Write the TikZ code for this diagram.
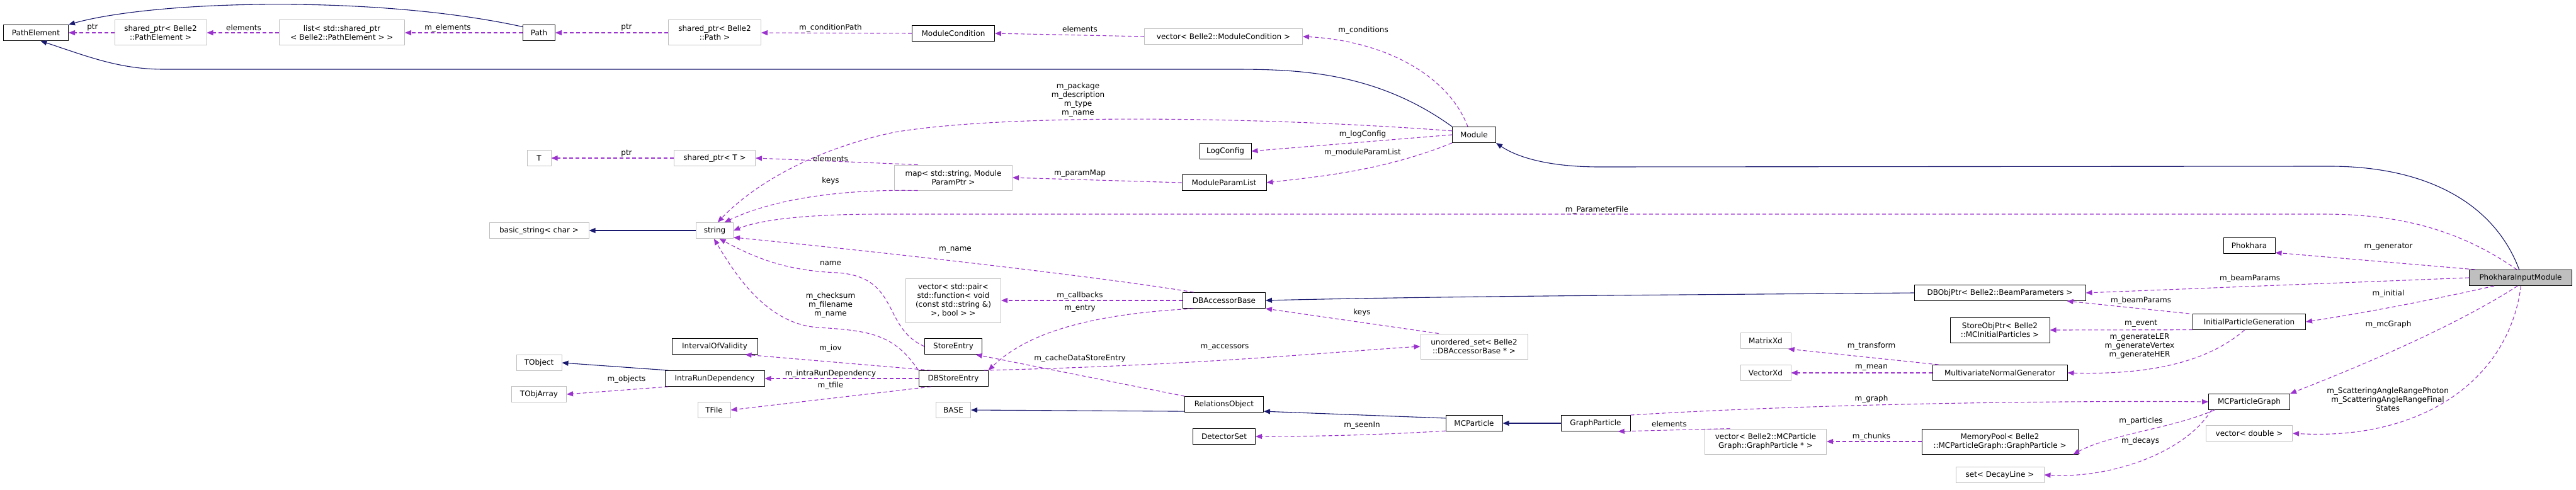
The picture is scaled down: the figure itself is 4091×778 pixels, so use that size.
\documentclass[tikz,border=0pt]{standalone}
\usepackage{fontspec}
\setmainfont{DejaVu Sans}
\usetikzlibrary{arrows.meta}
\definecolor{dep}{HTML}{9A32CD}
\definecolor{inh}{HTML}{191970}
\definecolor{gb}{HTML}{BFBFBF}
\begin{document}
\begin{tikzpicture}[x=1pt,y=-1pt,
  every node/.style={font=\fontsize{12}{14}\selectfont},
  bx/.style={draw=black,line width=1pt,fill=white,minimum height=25pt,inner sep=2pt,align=center},
  gbx/.style={draw=gb,line width=1pt,fill=white,minimum height=25pt,inner sep=2pt,align=center},
  depl/.style={draw=dep,line width=1.1pt,dash pattern=on 6pt off 4pt,-{Triangle[length=10pt,width=8pt]}},
  inhl/.style={draw=inh,line width=1.1pt,-{Triangle[length=10pt,width=8pt,fill=inh]}},
  lb/.style={inner sep=0pt,align=center}]
\useasboundingbox (0,0) rectangle (4091,778);
% nodes
\node[bx,minimum width=103pt] (PE) at (57,52) {PathElement};
\node[gbx,minimum width=146pt,minimum height=40pt] (spPE) at (255,52) {shared\_ptr< Belle2\\::PathElement >};
\node[gbx,minimum width=199pt,minimum height=40pt] (listPE) at (543,52) {list< std::shared\_ptr\\< Belle2::PathElement > >};
\node[bx,minimum width=51pt] (Path) at (856,52) {Path};
\node[gbx,minimum width=147pt,minimum height=40pt] (spPath) at (1135,52) {shared\_ptr< Belle2\\::Path >};
\node[bx,minimum width=131pt] (ModCond) at (1514,53) {ModuleCondition};
\node[gbx,minimum width=251pt] (vecMC) at (1943,58) {vector< Belle2::ModuleCondition >};
\node[bx,minimum width=69pt] (Module) at (2341,214) {Module};
\node[bx,minimum width=82pt] (LogConfig) at (1946,240) {LogConfig};
\node[bx,minimum width=134pt] (MPL) at (1944,290) {ModuleParamList};
\node[gbx,minimum width=187pt,minimum height=40pt] (map) at (1514,282) {map< std::string, Module\\ParamPtr >};
\node[gbx,minimum width=129pt] (spT) at (1135,251) {shared\_ptr< T >};
\node[gbx,minimum width=38pt] (T) at (856,251) {T};
\node[gbx,minimum width=59pt] (string) at (1135,366) {string};
\node[gbx,minimum width=158pt] (bstr) at (856,366) {basic\_string< char >};
\node[gbx,minimum width=151pt,minimum height=70pt] (vecPair) at (1514,477) {vector< std::pair<\\std::function< void\\(const std::string \&)\\>, bool > >};
\node[bx,minimum width=131pt] (DBAB) at (1944,477) {DBAccessorBase};
\node[bx,minimum width=136pt] (IOV) at (1135,550) {IntervalOfValidity};
\node[bx,minimum width=91pt] (SE) at (1514,550) {StoreEntry};
\node[bx,minimum width=158pt] (IRD) at (1135,601) {IntraRunDependency};
\node[bx,minimum width=110pt] (DBSE) at (1514,601) {DBStoreEntry};
\node[gbx,minimum width=52pt] (TFile) at (1134,651) {TFile};
\node[gbx,minimum width=55pt] (BASE) at (1514,651) {BASE};
\node[gbx,minimum width=72pt] (TObject) at (856,576) {TObject};
\node[gbx,minimum width=87pt] (TObjArray) at (856,626) {TObjArray};
\node[bx,minimum width=125pt] (RO) at (1944,642) {RelationsObject};
\node[bx,minimum width=99pt] (DetSet) at (1944,693) {DetectorSet};
\node[gbx,minimum width=170pt,minimum height=40pt] (uset) at (2341,550) {unordered\_set< Belle2\\::DBAccessorBase * >};
\node[gbx,minimum width=80pt] (MatrixXd) at (2804,541) {MatrixXd};
\node[gbx,minimum width=80pt] (VectorXd) at (2804,592) {VectorXd};
\node[bx,minimum width=90pt] (MCP) at (2341,672) {MCParticle};
\node[bx,minimum width=110pt] (GP) at (2534,672) {GraphParticle};
\node[gbx,minimum width=193pt,minimum height=40pt] (vecGP) at (2804,701) {vector< Belle2::MCParticle\\Graph::GraphParticle * >};
\node[bx,minimum width=272pt] (DBObjPtr) at (3176,465) {DBObjPtr< Belle2::BeamParameters >};
\node[bx,minimum width=158pt,minimum height=40pt] (SOP) at (3176,524) {StoreObjPtr< Belle2\\::MCInitialParticles >};
\node[bx,minimum width=214pt] (MNG) at (3176,592) {MultivariateNormalGenerator};
\node[bx,minimum width=248pt,minimum height=40pt] (MemPool) at (3176,701) {MemoryPool< Belle2\\::MCParticleGraph::GraphParticle >};
\node[gbx,minimum width=140pt] (setDL) at (3176,754) {set< DecayLine >};
\node[bx,minimum width=82pt] (Phokhara) at (3572,390) {Phokhara};
\node[bx,fill=gb,minimum width=163pt] (PIM) at (4003,441) {PhokharaInputModule};
\node[bx,minimum width=179pt] (IPG) at (3572,511) {InitialParticleGeneration};
\node[bx,minimum width=129pt] (MCPG) at (3572,638) {MCParticleGraph};
\node[gbx,minimum width=137pt] (vecD) at (3572,688) {vector< double >};
% anchors for free ends
\coordinate (modTop) at ([xshift=-10pt]Module.north);
\coordinate (dbopSE) at ([xshift=-30pt]DBObjPtr.south east);
\coordinate (ipgNW) at ([xshift=-5pt]IPG.north west);
\coordinate (mcpgA) at ([xshift=10pt]MCPG.south west);
\coordinate (mcpgB) at ([xshift=5pt]MCPG.south west);
\coordinate (mngNW) at ([xshift=10pt]MNG.north west);
\coordinate (pimNW) at ([xshift=10pt]PIM.north west);
\coordinate (pimSW) at ([xshift=40pt]PIM.south west);
% inheritance
\draw[inhl] (Path.160) .. controls (600,-8) and (250,0) .. (PE.north east);
\draw[inhl] (Module.north west) .. controls (2180,110) and (2050,110) .. (1950,110) -- (260,110) .. controls (190,110) and (140,90) .. (PE.-60);
\draw[inhl] (PIM.100) .. controls (3960,320) and (3850,264) .. (3700,264) -- (2540,265) .. controls (2460,265) and (2410,250) .. (Module.south east);
\draw[inhl] (string.west) -- (bstr.east);
\draw[inhl] (IRD.170) -- (TObject.east);
\draw[inhl] (RO.190) -- (BASE.east);
\draw[inhl] (MCP.170) -- (RO.-10);
\draw[inhl] (GP.west) -- (MCP.east);
\draw[inhl] (DBObjPtr.west) .. controls (2700,468) and (2300,470) .. (DBAB.east);
% dependencies
\draw[depl] (spPE.west) -- (PE.east);
\draw[depl] (listPE.west) -- (spPE.east);
\draw[depl] (Path.west) -- (listPE.east);
\draw[depl] (spPath.west) -- (Path.east);
\draw[depl] (ModCond.west) -- (spPath.east);
\draw[depl] (vecMC.west) -- (ModCond.east);
\draw[depl] (modTop) .. controls (2300,120) and (2200,65) .. (vecMC.east);
\draw[depl] (Module.170) .. controls (2000,185) and (1600,180) .. (1420,210) .. controls (1280,240) and (1190,300) .. (string.70);
\draw[depl] (Module.west) -- (LogConfig.east);
\draw[depl] (Module.south west) .. controls (2200,270) and (2100,280) .. (MPL.east);
\draw[depl] (MPL.west) -- (map.east);
\draw[depl] (map.160) -- (spT.east);
\draw[depl] (map.200) .. controls (1320,300) and (1220,320) .. (string.40);
\draw[depl] (spT.west) -- (T.east);
\draw[depl] (PIM.115) .. controls (3900,360) and (3800,340) .. (3690,340) -- (1400,340) .. controls (1260,340) and (1200,352) .. (string.east);
\draw[depl] (DBAB.165) .. controls (1750,440) and (1400,400) .. (string.-20);
\draw[depl] (DBAB.west) -- (vecPair.east);
\draw[depl] (DBAB.195) .. controls (1700,500) and (1620,540) .. (DBSE.north east);
\draw[depl] (SE.west) .. controls (1400,520) and (1430,440) .. (1330,433) .. controls (1250,430) and (1200,410) .. (string.-60);
\draw[depl] (DBSE.north west) .. controls (1420,530) and (1380,525) .. (1300,520) .. controls (1220,515) and (1170,440) .. (string.-95);
\draw[depl] (DBSE.160) -- (IOV.-15);
\draw[depl] (DBSE.west) -- (IRD.east);
\draw[depl] (DBSE.200) -- (TFile.east);
\draw[depl] (IRD.190) -- (TObjArray.east);
\draw[depl] (DBSE.15) .. controls (1900,580) and (2100,560) .. (uset.west);
\draw[depl] (uset.160) -- (DBAB.south east);
\draw[depl] (RO.north west) -- (SE.-20);
\draw[depl] (MCP.195) .. controls (2200,690) and (2100,693) .. (DetSet.east);
\draw[depl] (GP.north east) .. controls (2900,640) and (3300,636) .. (MCPG.west);
\draw[depl] (vecGP.160) -- (GP.-20);
\draw[depl] (MemPool.west) -- (vecGP.east);
\draw[depl] (mcpgA) .. controls (3450,680) and (3350,690) .. (MemPool.-10);
\draw[depl] (mcpgB) .. controls (3470,720) and (3350,760) .. (setDL.east);
\draw[depl] (mngNW) -- (MatrixXd.-20);
\draw[depl] (MNG.west) -- (VectorXd.east);
\draw[depl] (ipgNW) -- (dbopSE);
\draw[depl] (IPG.188) -- (SOP.east);
\draw[depl] (IPG.-120) .. controls (3500,580) and (3400,595) .. (MNG.east);
\draw[depl] (pimNW) -- (Phokhara.-15);
\draw[depl] (PIM.west) -- (DBObjPtr.east);
\draw[depl] (pimSW) .. controls (3800,490) and (3700,505) .. (IPG.east);
\draw[depl] (PIM.-110) .. controls (3880,530) and (3700,600) .. (MCPG.north east);
\draw[depl] (PIM.-88) .. controls (3985,600) and (3850,700) .. (vecD.east);
% labels
\node[lb] (l1) at (147,44) {ptr};
\node[lb] (l2) at (387,44) {elements};
\node[lb] (l3) at (711,44) {m\_elements};
\node[lb] (l4) at (995,44) {ptr};
\node[lb] (l5) at (1319,44) {m\_conditionPath};
\node[lb] (l6) at (1715,46) {elements};
\node[lb] (l7) at (2165,48) {m\_conditions};
\node[lb] (l8) at (1712,158) {m\_package\\m\_description\\m\_type\\m\_name};
\node[lb] (l9) at (2164,213) {m\_logConfig};
\node[lb] (l10) at (2164,242) {m\_moduleParamList};
\node[lb] (l11) at (1715,276) {m\_paramMap};
\node[lb] (l12) at (1319,252) {elements};
\node[lb] (l13) at (1319,287) {keys};
\node[lb] (l14) at (995,244) {ptr};
\node[lb] (l15) at (2536,333) {m\_ParameterFile};
\node[lb] (l16) at (1517,397) {m\_name};
\node[lb] (l17) at (1319,418) {name};
\node[lb] (l18) at (1715,469) {m\_callbacks};
\node[lb] (l19) at (1715,490) {m\_entry};
\node[lb] (l20) at (1319,484) {m\_checksum\\m\_filename\\m\_name};
\node[lb] (l21) at (1319,553) {m\_iov};
\node[lb] (l22) at (1319,593) {m\_intraRunDependency};
\node[lb] (l23) at (1319,612) {m\_tfile};
\node[lb] (l24) at (995,602) {m\_objects};
\node[lb] (l25) at (1715,569) {m\_cacheDataStoreEntry};
\node[lb] (l26) at (1945,552) {m\_accessors};
\node[lb] (l27) at (2163,496) {keys};
\node[lb] (l28) at (2163,676) {m\_seenIn};
\node[lb] (l29) at (2651,673) {elements};
\node[lb] (l30) at (2972,693) {m\_chunks};
\node[lb] (l31) at (2972,633) {m\_graph};
\node[lb] (l32) at (2972,549) {m\_transform};
\node[lb] (l33) at (2972,584) {m\_mean};
\node[lb] (l34) at (3400,477) {m\_beamParams};
\node[lb] (l35) at (3400,514) {m\_event};
\node[lb] (l36) at (3398,550) {m\_generateLER\\m\_generateVertex\\m\_generateHER};
\node[lb] (l37) at (3400,668) {m\_particles};
\node[lb] (l38) at (3399,700) {m\_decays};
\node[lb] (l39) at (3793,392) {m\_generator};
\node[lb] (l40) at (3573,442) {m\_beamParams};
\node[lb] (l41) at (3793,466) {m\_initial};
\node[lb] (l42) at (3793,515) {m\_mcGraph};
\node[lb] (l43) at (3792,634) {m\_ScatteringAngleRangePhoton\\m\_ScatteringAngleRangeFinal\\States};
\end{tikzpicture}
\end{document}
